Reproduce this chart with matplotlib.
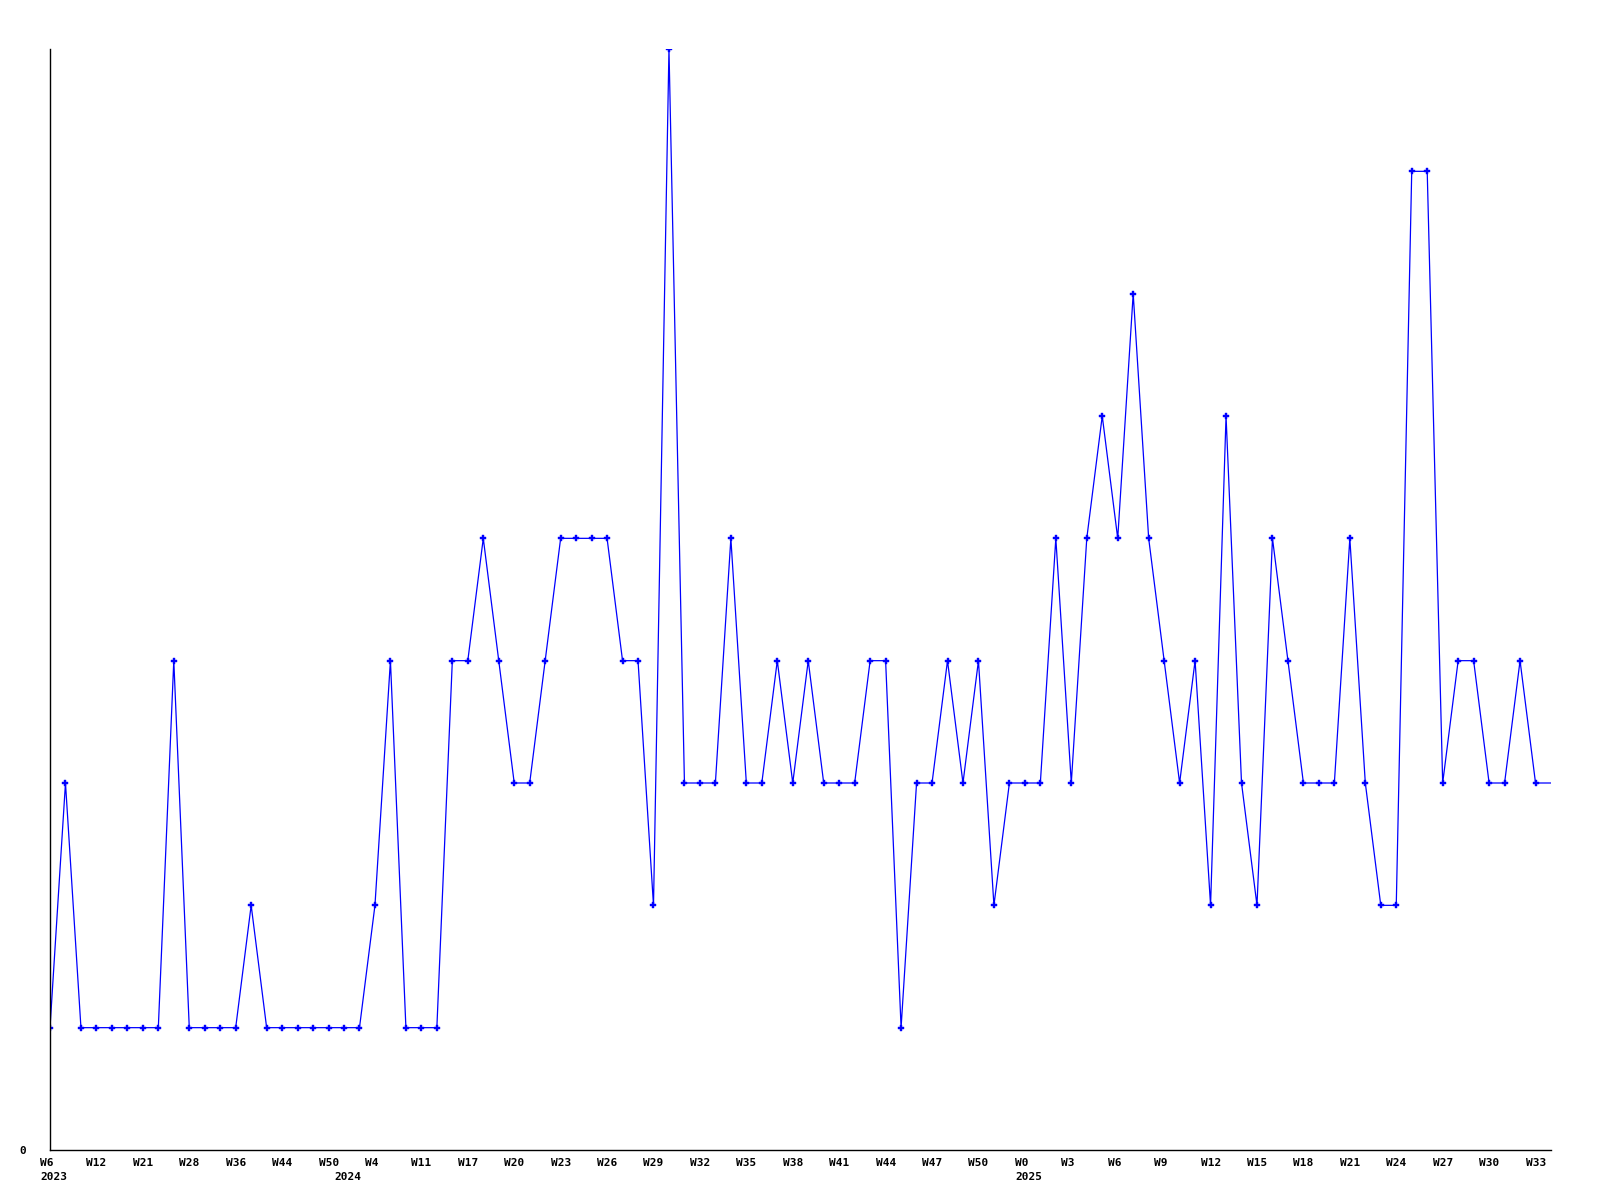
import matplotlib
matplotlib.use("Agg")
import matplotlib.pyplot as plt

# weekly counts, one per point (last point is the current, unfinished week)
counts = [1, 3, 1, 1, 1, 1, 1, 1, 4, 1, 1, 1, 1, 2, 1, 1, 1, 1, 1, 1,
          1, 2, 4, 1, 1, 1, 4, 4, 5, 4, 3, 3, 4, 5, 5, 5, 5, 4, 4, 2,
          9, 3, 3, 3, 5, 3, 3, 4, 3, 4, 3, 3, 3, 4, 4, 1, 3, 3, 4, 3,
          4, 2, 3, 3, 3, 5, 3, 5, 6, 5, 7, 5, 4, 3, 4, 2, 6, 3, 2, 5,
          4, 3, 3, 3, 5, 3, 2, 2, 8, 8, 3, 4, 4, 3, 3, 4, 3, 3]

week_labels = ["W6", "W12", "W21", "W28", "W36", "W44", "W50", "W4", "W11",
               "W17", "W20", "W23", "W26", "W29", "W32", "W35", "W38", "W41",
               "W44", "W47", "W50", "W0", "W3", "W6", "W9", "W12", "W15",
               "W18", "W21", "W24", "W27", "W30", "W33"]
label_step = 3

years = ["2023", "2024", "2025"]
year_pos = [0, 19, 63]

blue = "#0000ff"
font = dict(family="DejaVu Sans Mono", weight="bold", size=8)

fig = plt.figure(figsize=(16, 12), dpi=100)
ax = fig.add_axes([50 / 1600, 50 / 1200, 1501 / 1600, 1101 / 1200])

x = list(range(len(counts)))
ax.plot(x, counts, color=blue, lw=0.9)
# no marker on the last (partial) week
ax.plot(x[:-1], counts[:-1], ls="none", marker="P", ms=4.6, color=blue, mew=0.3)

ax.set_xlim(0, len(counts) - 1)
ax.set_ylim(0, max(counts))

for side in ("top", "right"):
    ax.spines[side].set_visible(False)
for side in ("left", "bottom"):
    ax.spines[side].set_linewidth(1.0)
    ax.spines[side].set_color("black")

ax.set_xticks(x[::label_step][:len(week_labels)])
ax.set_xticklabels(week_labels, ha="left", **font)
ax.tick_params(axis="x", length=0, pad=6)
offset = matplotlib.transforms.ScaledTranslation(-0.10, 0, fig.dpi_scale_trans)
for lbl in ax.get_xticklabels():
    lbl.set_transform(lbl.get_transform() + offset)

ax.set_yticks([0])
ax.set_yticklabels(["0"], **font)
ax.tick_params(axis="y", length=0, pad=17)

for yr, pos in zip(years, year_pos):
    ax.annotate(yr, xy=(pos, 0), xycoords=("data", "axes fraction"),
                xytext=(-10, -22), textcoords="offset pixels",
                ha="left", va="top", **font)

fig.savefig("out.png", dpi=100, facecolor="white")
